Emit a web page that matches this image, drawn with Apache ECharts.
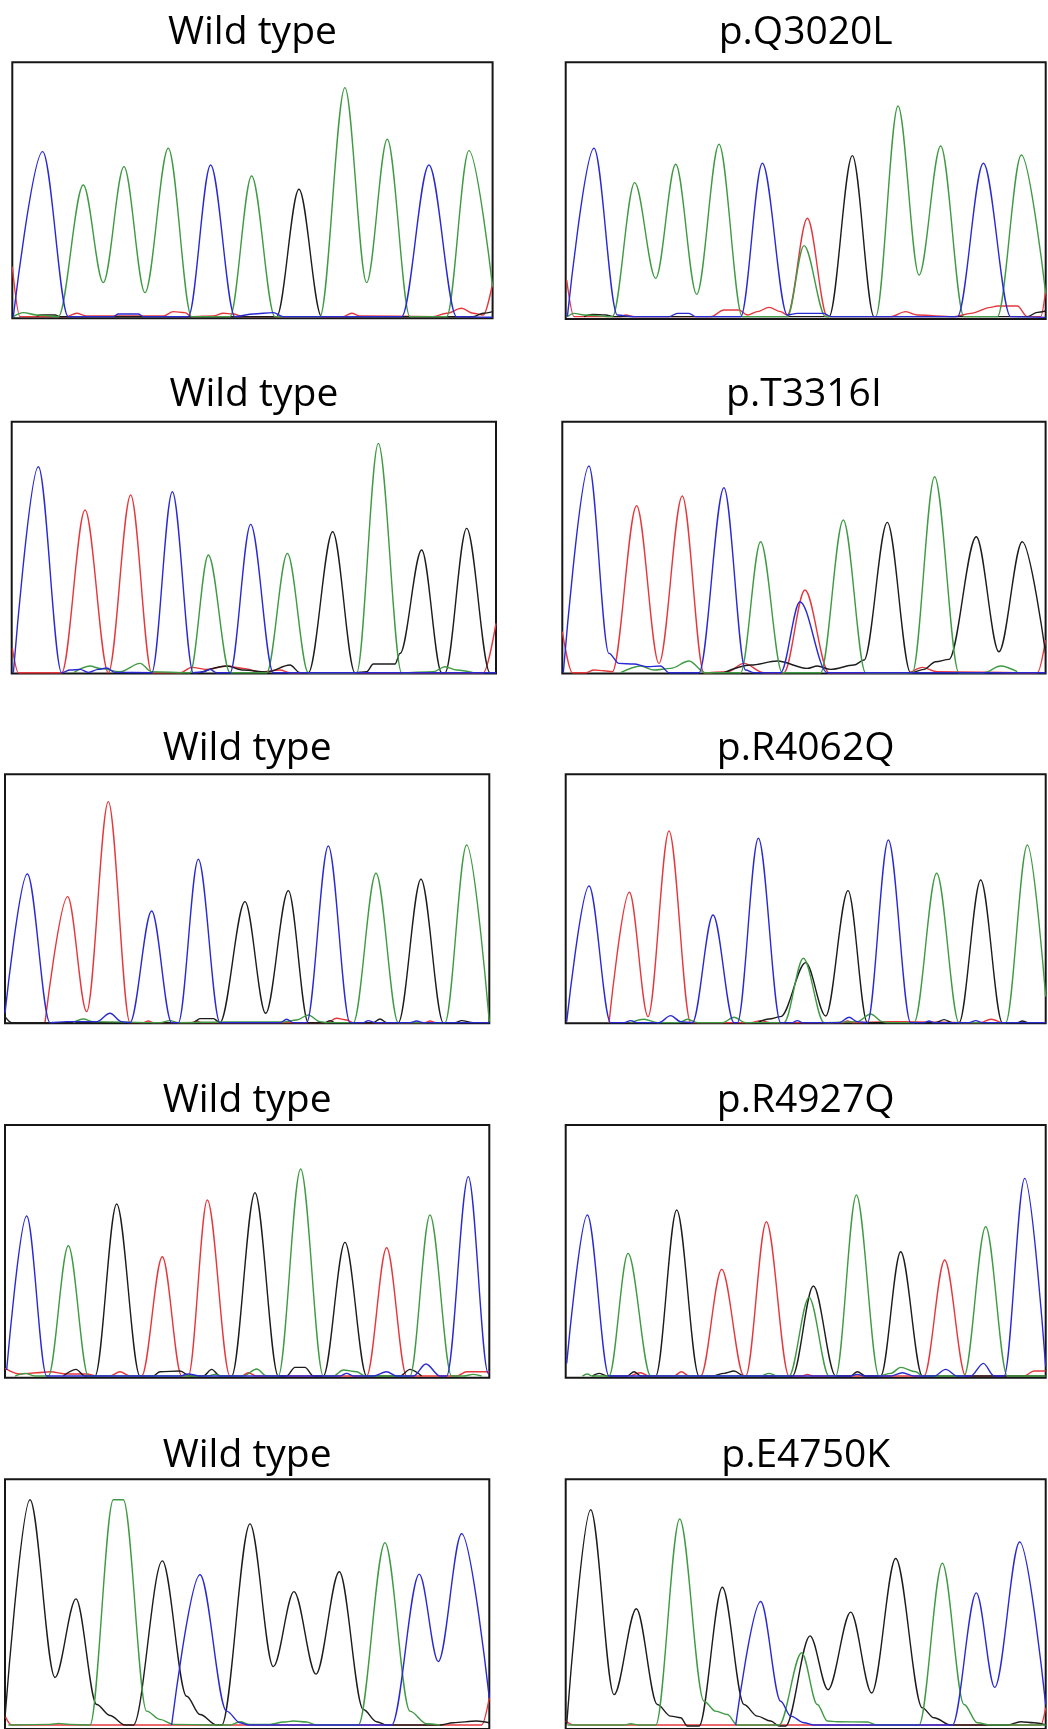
<!DOCTYPE html>
<html>
<head>
<meta charset="utf-8">
<script src="https://cdn.jsdelivr.net/npm/echarts@6/dist/echarts.min.js"></script>
<style>
html,body{margin:0;padding:0;background:#fff;}
#chart{width:1048px;height:1729px;}
</style>
</head>
<body>
<div id="chart"></div>
<script>
// ---------- DATA (scan position, signal intensity) ----------
const titles = ['Wild type','p.Q3020L','Wild type','p.T3316I','Wild type','p.R4062Q','Wild type','p.R4927Q','Wild type','p.E4750K'];

// axis extents per panel [xMax, yMin, yMax]
const extents = [[1441,0,768],[1440,0,770],[1453,0,755],[1450,0,755],[1453,0,747],[1440,0,747],[1453,0,758],[1440,0,758],[1453,-4,752],[1440,-4,752]];

// Panel 1 - Wild type
const p1Blue  = [[3,5],[91,500],[168,5],[303,5],[318,13],[378,13],[393,5],[528,5],[595,460],[668,5],[723,13],[783,17],[813,5],[1168,5],[1250,460],[1333,5],[1441,3]];
const p1Green = [[3,5],[33,17],[73,10],[138,5],[213,400],[273,107],[335,455],[398,77],[468,510],[538,5],[653,5],[718,427],[788,5],[923,5],[998,692],[1063,107],[1125,537],[1193,5],[1303,5],[1370,503],[1441,95]];
const p1Black = [[73,7],[88,10],[128,10],[143,5],[793,5],[860,387],[928,5],[1383,5],[1413,15],[1441,20]];
const p1Red   = [[0,155],[23,5],[163,5],[193,15],[223,7],[453,7],[483,20],[518,17],[538,5],[603,7],[633,15],[663,13],[693,5],[993,5],[1018,15],[1043,7],[1263,5],[1303,15],[1348,30],[1383,15],[1413,10],[1441,105]];

// Panel 2 - p.Q3020L
const p2Blue  = [[5,7],[85,512],[155,12],[205,7],[310,7],[335,17],[370,17],[390,7],[525,7],[590,467],[665,12],[695,17],[775,17],[795,7],[1175,7],[1253,467],[1335,7],[1440,5]];
const p2Green = [[5,7],[25,17],[55,12],[140,7],[207,409],[270,122],[330,464],[393,74],[460,524],[530,7],[665,7],[715,220],[780,7],[930,7],[997,639],[1060,132],[1125,519],[1195,7],[1295,7],[1367,492],[1440,77]];
const p2Black = [[55,7],[80,14],[120,12],[145,7],[790,7],[860,490],[925,7],[1385,7],[1415,20],[1440,24]];
const p2Red   = [[3,117],[25,7],[165,7],[180,12],[205,7],[435,7],[475,27],[520,27],[545,12],[575,22],[610,35],[645,22],[665,12],[725,302],[785,7],[975,7],[1020,22],[1055,12],[1165,7],[1215,17],[1275,35],[1295,39],[1355,39],[1385,7],[1425,7],[1440,87]];

// Panel 3 - Wild type
const p3Blue  = [[5,2],[80,620],[150,2],[175,10],[205,12],[230,3],[260,12],[285,16],[310,3],[420,2],[482,545],[545,2],[575,5],[595,12],[615,2],[655,2],[717,447],[785,2],[1453,2]];
const p3Green = [[185,2],[235,22],[265,15],[325,5],[385,30],[420,5],[535,2],[590,355],[655,2],[765,2],[827,360],[890,2],[1035,2],[1100,690],[1170,2],[1265,5],[1300,20],[1335,10],[1385,2]];
const p3Black = [[565,2],[645,22],[695,10],[765,4],[835,25],[865,2],[890,2],[963,425],[1030,2],[1065,5],[1085,28],[1150,28],[1165,60],[1230,370],[1290,2],[1300,2],[1365,435],[1435,2],[1453,2]];
const p3Red   = [[2,75],[20,2],[150,2],[220,490],[290,2],[357,535],[420,2],[505,2],[540,18],[585,12],[645,22],[695,15],[745,4],[805,10],[835,2],[1415,2],[1453,150]];

// Panel 4 - p.T3316I
const p4Blue  = [[3,2],[80,622],[140,60],[170,30],[215,28],[255,20],[295,22],[320,2],[410,2],[485,557],[550,10],[575,2],[655,2],[713,215],[795,2],[1450,2]];
const p4Green = [[175,2],[235,22],[275,10],[325,15],[380,37],[430,2],[535,2],[595,395],[660,2],[775,2],[843,460],[910,2],[1050,2],[1117,590],[1190,2],[1265,2],[1315,22],[1365,5]];
const p4Black = [[485,2],[565,25],[645,37],[735,15],[765,22],[805,12],[875,25],[905,40],[975,453],[1045,2],[1085,12],[1120,35],[1160,42],[1242,410],[1310,65],[1380,395],[1450,60]];
const p4Red   = [[0,125],[30,2],[70,2],[95,10],[125,8],[150,5],[223,503],[290,30],[360,532],[425,2],[495,5],[545,30],[605,2],[665,2],[728,250],[800,2],[1035,2],[1080,18],[1125,5],[1425,2],[1450,100]];

// Panel 5 - Wild type
const p5Blue  = [[0,30],[67,448],[135,2],[185,5],[275,5],[315,30],[350,5],[375,2],[440,337],[500,2],[520,2],[580,492],[645,2],[825,2],[845,12],[865,2],[905,2],[970,532],[1035,2],[1075,2],[1090,8],[1110,2],[1215,2],[1235,7],[1255,2],[1453,2]];
const p5Green = [[205,2],[235,13],[265,5],[465,2],[495,8],[520,2],[665,4],[835,4],[875,10],[910,25],[945,5],[965,2],[1045,2],[1113,450],[1180,2],[1320,2],[1385,535],[1453,5]];
const p5Black = [[0,20],[20,2],[565,2],[585,14],[625,14],[645,2],[720,365],[782,30],[850,398],[910,2],[960,2],[975,8],[990,2],[1105,2],[1125,13],[1145,2],[1180,2],[1248,432],[1315,2],[1350,2],[1370,8],[1405,2],[1453,2]];
const p5Red   = [[120,2],[188,380],[245,35],[310,665],[375,2],[415,2],[430,7],[445,2],[560,2],[575,7],[590,2],[965,2],[995,15],[1025,10],[1045,2],[1260,2],[1275,7],[1290,2]];

// Panel 6 - p.R4062Q
const p6Blue  = [[3,5],[70,412],[135,2],[175,2],[195,8],[215,2],[280,2],[315,23],[345,5],[380,2],[442,325],[505,2],[515,2],[578,555],[645,2],[680,2],[695,8],[710,2],[820,2],[850,18],[875,5],[905,2],[968,550],[1035,2],[1075,2],[1090,7],[1105,2],[1210,2],[1230,8],[1250,2],[1440,2]];
const p6Green = [[195,2],[235,12],[275,2],[340,2],[365,12],[395,2],[470,2],[505,18],[540,2],[655,2],[713,195],[775,2],[875,5],[915,28],[950,5],[965,2],[1045,2],[1113,450],[1180,2],[1320,2],[1385,535],[1440,80]];
const p6Black = [[575,2],[610,13],[645,20],[720,182],[780,22],[847,398],[905,2],[1110,2],[1135,11],[1160,2],[1180,2],[1245,430],[1310,2],[1355,2],[1370,7],[1385,2]];
const p6Red   = [[130,2],[191,393],[247,20],[310,577],[375,2],[555,2],[585,8],[615,2],[830,2],[845,7],[865,2],[965,5],[1015,5],[1245,2],[1275,12],[1305,2]];

// Panel 7 - Wild type
const p7Blue  = [[5,23],[65,485],[125,5],[525,5],[550,11],[585,5],[1005,5],[1025,13],[1045,5],[1105,5],[1145,18],[1175,5],[1225,5],[1263,41],[1305,5],[1325,5],[1390,603],[1450,13],[1453,13]];
const p7Green = [[30,5],[60,13],[90,5],[130,5],[190,396],[250,5],[610,5],[630,10],[650,5],[715,5],[755,26],[785,5],[820,5],[887,626],[955,5],[985,5],[1015,23],[1055,18],[1080,5],[1215,5],[1275,488],[1340,5],[1375,5],[1405,10],[1430,5]];
const p7Black = [[175,5],[213,25],[240,5],[270,5],[335,521],[405,5],[445,5],[465,18],[525,20],[555,5],[595,5],[620,25],[645,5],[680,5],[750,555],[820,5],[845,5],[870,31],[900,31],[925,5],[955,5],[1020,406],[1085,5],[1185,5],[1215,25],[1250,5]];
const p7Red   = [[0,28],[45,11],[95,15],[135,18],[185,11],[245,11],[275,5],[315,5],[345,18],[375,5],[410,5],[472,363],[530,5],[550,5],[607,533],[675,5],[710,5],[730,15],[755,5],[1085,5],[1145,390],[1205,5],[1355,5],[1385,18],[1453,18]];

// Panel 8 - p.R4927Q
const p8Blue  = [[3,43],[65,488],[130,5],[855,5],[875,10],[895,5],[975,5],[1010,15],[1045,5],[1105,5],[1140,25],[1175,5],[1215,5],[1253,43],[1285,5],[1315,5],[1377,598],[1440,33]];
const p8Green = [[50,5],[65,11],[80,5],[130,5],[187,373],[255,5],[585,5],[610,13],[635,5],[670,5],[730,241],[790,5],[810,5],[872,548],[940,5],[975,13],[1005,31],[1050,18],[1070,5],[1195,5],[1260,453],[1325,5],[1440,5]];
const p8Black = [[80,5],[100,13],[125,5],[185,5],[205,18],[225,5],[270,5],[333,503],[400,5],[440,5],[475,13],[505,20],[535,5],[680,5],[743,275],[810,5],[855,5],[875,18],[900,5],[945,5],[1005,378],[1070,5],[1440,5]];
const p8Red   = [[195,5],[225,15],[250,5],[325,5],[347,18],[370,5],[405,5],[468,325],[535,5],[540,5],[602,468],[670,5],[710,5],[725,10],[740,5],[1075,5],[1137,353],[1200,5],[1375,5],[1405,20],[1440,20]];

// Panel 9 - Wild type
const p9Blue  = [[500,8],[585,463],[665,50],[705,15],[730,8],[1160,8],[1243,465],[1300,200],[1370,587],[1453,90]];
const p9Green = [[10,8],[135,10],[160,13],[195,10],[255,8],[325,690],[355,690],[425,50],[465,25],[505,10],[675,8],[705,18],[735,10],[795,10],[835,17],[865,20],[905,17],[935,8],[1060,8],[1140,560],[1215,50],[1265,12],[1305,8]];
const p9Black = [[0,30],[75,690],[150,152],[213,390],[275,70],[315,37],[360,8],[385,8],[472,505],[545,95],[585,40],[635,8],[650,8],[735,617],[805,185],[867,412],[933,162],[1003,472],[1075,55],[1115,18],[1145,8],[1305,8],[1345,15],[1415,20],[1453,15]];
const p9Red   = [[0,35],[20,8],[1430,8],[1453,90]];

// Panel 10 - p.E4750K
const p10Blue  = [[510,8],[585,382],[645,80],[675,35],[715,15],[745,8],[1160,8],[1232,408],[1287,122],[1362,562],[1440,70]];
const p10Green = [[5,8],[175,8],[195,12],[220,8],[270,8],[342,632],[415,80],[450,50],[485,40],[515,8],[640,8],[708,227],[755,70],[785,20],[815,18],[905,17],[935,8],[1060,8],[1130,498],[1195,70],[1235,15],[1275,8],[1440,8]];
const p10Black = [[3,10],[75,660],[145,100],[212,360],[275,70],[315,35],[345,30],[365,5],[400,5],[470,425],[535,70],[575,35],[615,20],[640,5],[660,5],[733,278],[787,115],[855,350],[918,105],[990,512],[1070,60],[1105,30],[1155,8],[1325,8],[1365,18],[1405,15],[1440,8]];
const p10Red   = [[0,20],[25,8],[1425,8],[1440,60]];

const traces = [
  [p1Red, p1Black, p1Green, p1Blue],
  [p2Red, p2Black, p2Green, p2Blue],
  [p3Red, p3Black, p3Green, p3Blue],
  [p4Red, p4Black, p4Green, p4Blue],
  [p5Red, p5Black, p5Green, p5Blue],
  [p6Red, p6Black, p6Green, p6Blue],
  [p7Red, p7Black, p7Green, p7Blue],
  [p8Red, p8Black, p8Green, p8Blue],
  [p9Red, p9Black, p9Green, p9Blue],
  [p10Red, p10Black, p10Green, p10Blue]
];
const traceNames = ['T','G','A','C'];

// ---------- LAYOUT / STYLE ----------
const traceColors = ['#e5373c', '#1c1c1c', '#3f9a43', '#2a2ad4'];
const boxes = [ // left, top, width, height (px)
  [12.3, 62.3, 480.3, 256],   [565.7, 62.3, 480, 256.7],
  [11.7, 421.7, 484.3, 251.7], [562.3, 421.7, 483.3, 251.7],
  [5, 774.3, 484.3, 249],     [565.7, 774.3, 480, 249],
  [5, 1125, 484.3, 252.7],    [565.7, 1125, 480, 252.7],
  [5, 1479.3, 484.3, 252],    [565.7, 1479.3, 480, 252]
];
const titleY = [33, 395, 749, 1101, 1456];

const chart = echarts.init(document.getElementById('chart'), null, {renderer: 'canvas'});
const grid = [], xAxis = [], yAxis = [], series = [], graphic = [];
boxes.forEach((b, i) => {
  grid.push({left: b[0], top: b[1], width: b[2], height: b[3], show: true,
    borderColor: '#161616', borderWidth: 2, backgroundColor: 'transparent', containLabel: false});
  const ext = extents[i];
  xAxis.push({type: 'value', gridIndex: i, min: 0, max: ext[0], show: false});
  yAxis.push({type: 'value', gridIndex: i, min: ext[1], max: ext[2], show: false});
  traces[i].forEach((d, k) => {
    series.push({
      type: 'line', name: traceNames[k], xAxisIndex: i, yAxisIndex: i, data: d,
      showSymbol: false, symbol: 'none', smooth: 0.33, smoothMonotone: 'x',
      lineStyle: {color: traceColors[k], width: 1.4}, itemStyle: {color: traceColors[k]},
      silent: true, clip: true, animation: false, z: 2 + k
    });
  });
  graphic.push({type: 'text', x: b[0] + b[2] / 2, y: titleY[Math.floor(i / 2)],
    style: {text: titles[i], fill: '#000', font: '39px "Open Sans"', textAlign: 'center', textVerticalAlign: 'middle'}});
});

chart.setOption({
  animation: false,
  backgroundColor: '#ffffff',
  grid, xAxis, yAxis, series, graphic
});
</script>
</body>
</html>
